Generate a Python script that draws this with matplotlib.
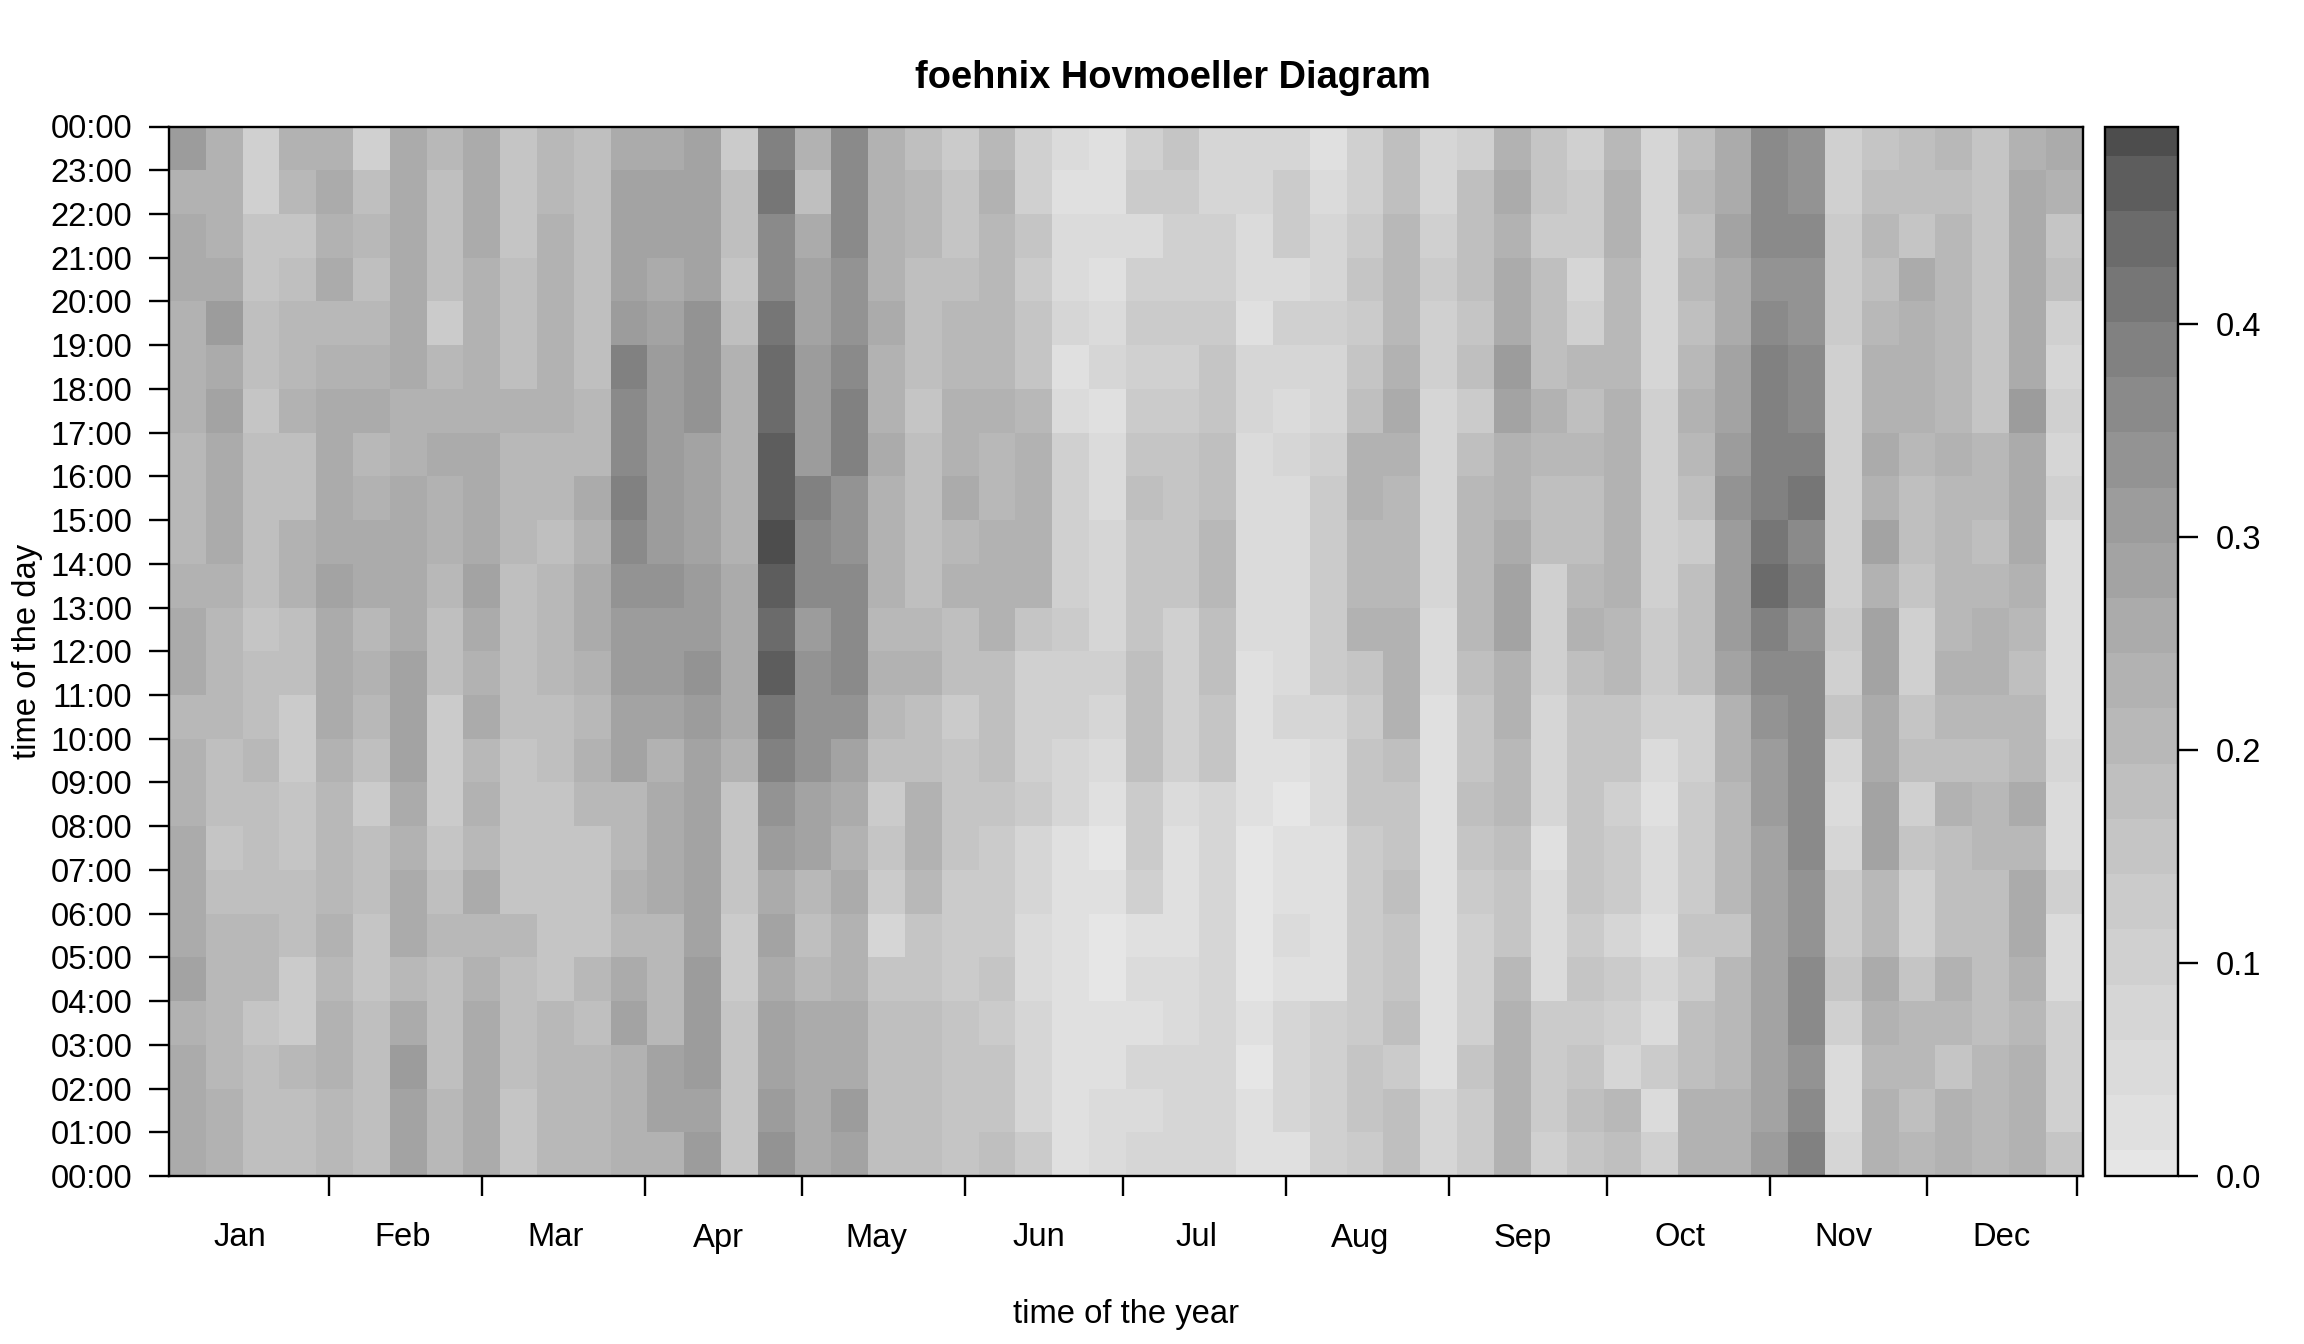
import numpy as np
import matplotlib
matplotlib.use("Agg")
import matplotlib.pyplot as plt
from matplotlib.colors import ListedColormap, BoundaryNorm
from matplotlib.transforms import Affine2D, blended_transform_factory

plt.rcParams['font.family'] = ['Liberation Sans', 'DejaVu Sans']

# Colour level of each week, one list per week, listed from the top hour (23-24 h) down to 0-1 h
jan = [
 [12,9,10,10,9,9,9,8,8,8,9,10, 10,8,9,9,10,10,10,11,9,10,10,10],
 [9,9,9,10,12,10,11,10,10,10,9,8, 8,8,7,7,6,7,8,8,8,8,9,9],
 [4,4,6,6,7,7,6,7,7,7,7,6, 7,7,8,7,7,7,8,8,6,7,7,7],
 [9,8,6,7,8,8,9,7,7,9,9,7, 7,5,5,6,6,7,7,5,5,8,7,7],
 [9,10,9,10,8,9,10,10,10,10,11,10, 10,10,9,8,8,8,9,8,9,9,8,8],
]
feb = [
 [4,7,8,7,8,9,10,8,9,10,10,8, 9,8,7,5,7,7,6,6,7,7,7,7],
 [10,10,10,10,10,10,9,9,10,10,10,10, 11,11,11,10,9,10,10,8,10,12,11,11],
 [8,7,7,7,5,8,9,10,9,9,8,7, 7,5,5,5,6,7,8,7,7,7,8,8],
 [10,10,10,9,9,9,9,10,10,10,11,10, 9,10,8,9,8,10,8,9,10,10,10,10],
]
mar = [
 [6,6,6,7,7,7,9,8,8,8,7,7, 7,7,6,6,6,6,8,7,7,7,6,6],
 [8,8,9,9,9,9,9,8,8,7,8,8, 8,7,7,6,6,6,6,6,8,8,8,8],
 [7,7,7,7,7,7,8,8,10,9,10,10, 9,8,9,8,6,6,6,8,7,8,8,8],
 [10,11,11,11,12,15,14,14,15,14,13,12, 12,11,11,8,8,9,8,10,11,9,9,9],
 [10,11,11,10,11,12,12,12,12,12,13,12, 12,11,9,10,10,10,8,8,8,11,11,9],
]
apr = [
 [11,11,11,11,13,13,13,11,11,11,12,12, 13,12,11,11,11,11,11,12,12,12,11,12],
 [5,7,7,6,7,9,9,9,9,9,10,10, 10,10,9,6,6,6,5,5,6,6,6,6],
 [15,16,14,14,16,17,17,18,18,19,18,17, 18,16,15,13,12,10,11,10,11,11,12,13],
 [9,7,10,11,11,12,12,12,15,14,14,12, 13,13,13,11,11,8,7,8,10,10,10,10],
]
may = [
 [14,14,14,13,13,14,15,15,13,13,14,14, 14,13,11,10,9,10,9,9,10,10,12,11],
 [9,9,9,9,10,9,9,10,9,9,9,8, 9,8,7,5,6,5,3,6,7,7,7,7],
 [7,8,8,7,7,7,6,7,7,7,7,8, 9,7,7,9,9,8,6,6,7,7,7,7],
 [5,6,6,7,8,8,9,9,10,8,9,7, 7,5,6,6,6,5,5,5,6,6,6,6],
 [8,9,8,8,8,8,9,8,8,9,9,9, 7,7,7,6,5,5,5,6,5,6,6,7],
]
jun = [
 [4,4,6,5,6,6,8,9,9,9,9,6, 4,4,4,5,3,3,2,2,3,3,3,5],
 [2,1,2,2,3,1,2,4,4,4,4,5, 4,4,3,3,1,1,1,1,1,1,1,1],
 [1,1,2,1,2,3,1,2,2,3,3,3, 4,3,2,1,0,1,0,0,1,1,2,2],
 [4,5,2,4,5,4,5,6,7,6,6,6, 7,7,7,5,5,4,1,2,1,3,2,3],
]
jul = [
 [6,5,4,4,5,4,5,6,6,6,6,4, 4,4,4,2,1,1,1,2,2,3,3,3],
 [3,3,4,4,5,6,6,7,7,8,8,7, 7,6,6,3,3,3,3,3,3,3,3,3],
 [3,3,2,2,1,3,3,2,2,2,2,2, 1,1,1,1,0,0,0,0,1,0,1,1],
 [3,5,5,2,4,3,2,3,2,2,2,2, 2,3,1,0,1,1,2,1,3,3,3,1],
]
aug = [
 [1,2,3,3,4,3,3,4,5,5,5,5, 5,3,2,2,1,1,1,1,4,4,4,4],
 [4,4,5,6,5,6,7,9,9,8,8,9, 6,5,6,6,5,5,5,5,5,6,6,5],
 [7,7,8,8,8,9,10,9,8,8,8,9, 9,9,7,6,6,7,6,6,7,5,7,7],
 [3,3,4,5,4,4,3,3,3,3,3,2, 2,1,1,1,1,1,1,1,1,1,3,3],
 [4,7,7,7,6,7,5,7,8,8,8,8, 7,6,6,7,6,5,4,4,4,6,5,5],
]
sep = [
 [9,10,9,10,10,12,11,9,9,10,11,11, 9,9,8,8,7,6,6,8,9,9,9,9],
 [6,6,5,7,7,7,9,8,7,7,4,4, 4,3,3,3,1,2,2,2,5,5,5,4],
 [4,5,5,3,4,8,7,8,7,7,8,9, 7,6,6,6,6,6,5,6,5,6,7,6],
 [8,9,9,8,8,8,9,9,9,9,9,8, 8,6,6,4,5,5,3,5,4,3,8,7],
]
oct_ = [
 [3,3,3,3,3,3,4,4,4,4,4,5, 5,4,2,1,2,2,1,3,2,5,2,4],
 [7,8,7,8,7,8,9,8,7,5,7,7, 7,4,4,5,5,5,6,5,7,7,9,9],
 [10,10,11,10,10,11,11,12,13,12,12,12, 11,9,9,8,8,8,6,8,8,8,9,9],
 [14,14,14,13,14,15,15,15,15,16,17,15, 14,13,12,12,11,11,11,11,11,11,11,12],
]
nov = [
 [13,13,14,13,13,14,14,15,16,14,15,13, 14,14,14,14,14,13,13,14,14,13,14,15],
 [4,4,5,5,5,4,4,4,4,4,4,5, 4,6,3,2,3,5,5,6,4,2,2,3],
 [6,7,8,7,8,9,9,10,9,11,9,11, 11,10,10,11,11,8,8,10,9,8,9,9],
 [7,7,6,10,9,9,9,8,7,7,6,4, 4,6,7,4,6,4,4,6,8,8,7,8],
]
dec = [
 [8,7,8,8,8,8,8,9,8,8,8,8, 9,8,7,9,7,7,7,9,8,6,9,9],
 [6,6,6,6,6,6,6,8,8,7,8,9, 9,8,7,8,8,7,7,7,7,8,8,8],
 [9,10,10,10,10,10,12,10,10,10,9,8, 7,8,8,10,8,10,10,9,8,9,9,9],
 [10,9,6,7,4,3,4,3,4,2,2,2, 2,2,3,2,2,4,2,2,4,4,4,6],
]

month_names = ["Jan", "Feb", "Mar", "Apr", "May", "Jun",
               "Jul", "Aug", "Sep", "Oct", "Nov", "Dec"]
month_label_day = [13.5, 44.5, 73.5, 104.5, 134.5, 165.5,
                   195.5, 226.5, 257.5, 287.5, 318.5, 348.5]
month_edge_day = [30.5, 59.5, 90.5, 120.5, 151.5, 181.5,
                  212.5, 243.5, 273.5, 304.5, 334.5, 363.0]
hour_ticks = list(range(25))
hour_labels = [f"{h % 24:02d}:00" for h in hour_ticks]
bar_ticks = [0.0, 0.1, 0.2, 0.3, 0.4]
n_levels = 20
z_max = 0.4925

W, H = 2304, 1344
INK = "#000000"
FS = 23.6
LW = 1.7
TL = 14.4

weeks = jan + feb + mar + apr + may + jun + jul + aug + sep + oct_ + nov + dec
level = np.array(weeks, dtype=float).T[::-1]      # rows now run from hour 0 upward
step = z_max / (n_levels - 1)
freq = level * step

# R gray.colors(20, start=0.9, end=0.3)
g = np.linspace(0.9 ** 2.2, 0.3 ** 2.2, n_levels) ** (1 / 2.2)
cmap = ListedColormap([(v, v, v) for v in g])
bounds = np.concatenate([[0], (np.arange(n_levels - 1) + 0.5) * step, [z_max]])
norm = BoundaryNorm(bounds, cmap.N)

fig = plt.figure(figsize=(W / 100, H / 100), dpi=100, facecolor="white")


def axes_px(x0, x1, y0, y1):
    return fig.add_axes([x0 / W, 1 - y1 / H, (x1 - x0) / W, (y1 - y0) / H])


ax = axes_px(169, 2082.5, 126.5, 1176)
x_edges = np.arange(level.shape[1] + 1)
y_edges = np.arange(level.shape[0] + 1)
mesh = ax.pcolormesh(x_edges, y_edges, freq, cmap=cmap, norm=norm,
                     shading="flat", antialiased=False, linewidth=0)
ax.set_xlim(0, 52)
ax.set_ylim(0, 24)
ax.set_yticks(hour_ticks)
ax.set_yticklabels(hour_labels, fontsize=FS, color=INK)
ax.set_xticks([d / 7 for d in month_edge_day])
ax.set_xticklabels([])
ax.tick_params(axis="both", length=TL, width=LW, color=INK)
ax.tick_params(axis="y", pad=12)
for s in ax.spines.values():
    s.set_linewidth(LW)
    s.set_color(INK)
label_tf = blended_transform_factory(ax.transData,
                                     Affine2D().scale(1, -1).translate(0, H))
for name, d in zip(month_names, month_label_day):
    ax.text(d / 7, 1238, name, fontsize=FS, color=INK, ha="center", va="center",
            transform=label_tf, clip_on=False)

cax = axes_px(2105, 2177.5, 126.5, 1176)
cb = fig.colorbar(mesh, cax=cax, boundaries=bounds, spacing="proportional",
                  ticks=bar_ticks, drawedges=False)
cb.ax.set_yticklabels([f"{t:.1f}" for t in bar_ticks], fontsize=FS, color=INK)
cb.ax.tick_params(length=TL, width=LW, color=INK, pad=13)
cb.ax.minorticks_off()
cb.outline.set_linewidth(LW)
cb.outline.set_edgecolor(INK)
cb.solids.set_antialiased(False)
cb.solids.set_edgecolor("face")

fig.text(1173 / W, 1 - 78 / H, "foehnix Hovmoeller Diagram", fontsize=27.4,
         fontweight="bold", ha="center", va="center", color=INK)
fig.text(1126 / W, 1 - 1315 / H, "time of the year", fontsize=FS,
         ha="center", va="center", color=INK)
fig.text(28 / W, 1 - 651 / H, "time of the day", fontsize=FS, rotation=90,
         ha="center", va="center", color=INK)

fig.savefig("out.png", dpi=100, facecolor="white")
